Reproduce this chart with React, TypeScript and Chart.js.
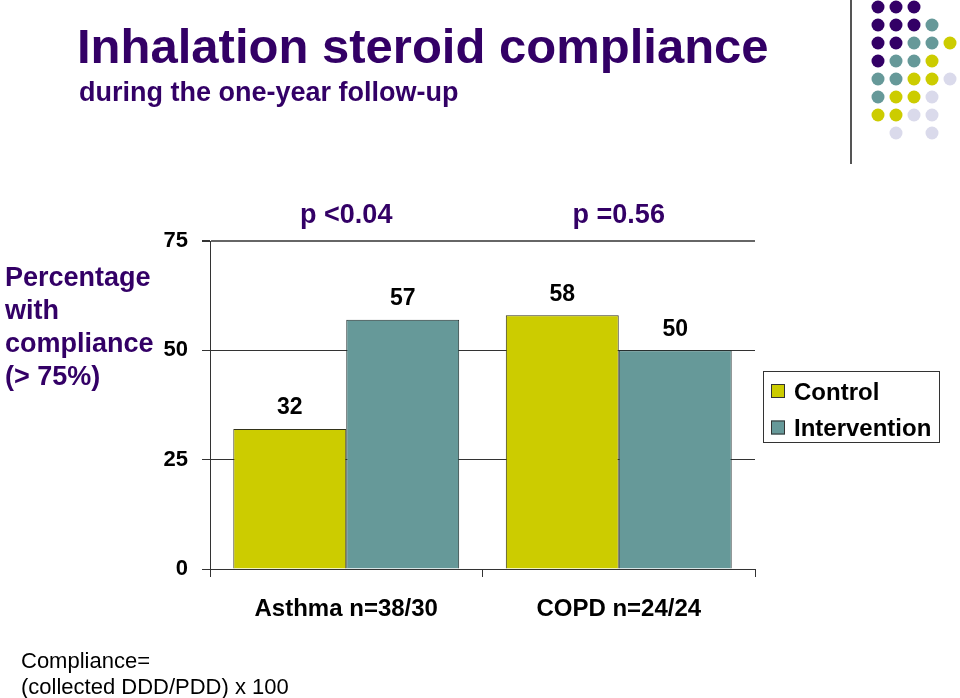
import React, { useEffect, useRef } from "react";
import { Chart, registerables } from "chart.js";

Chart.register(...registerables);

const categories = ["Asthma n=38/30", "COPD n=24/24"];
const seriesNames = ["Control", "Intervention"];
const controlValues = [32, 58];
const interventionValues = [57, 50];
const pValues = ["p <0.04", "p =0.56"];
const yTicks = [0, 25, 50, 75];

const titleText = "Inhalation steroid compliance";
const subtitleText = "during the one-year follow-up";
const yTitleLines = ["Percentage", "with", "compliance", "(> 75%)"];
const footnoteLines = ["Compliance=", "(collected DDD/PDD) x 100"];

const FONT = "'Liberation Sans', Arial, Helvetica, sans-serif";
const PURPLE = "#330066";
const YELLOW = "#CCCC00";
const TEAL = "#669999";
const LAVENDER = "#DADAEB";

// decorative dot pattern (top-right corner)
const dotRows = ["PPP..", "PPPT.", "PPTTY", "PTTY.", "TTYYL", "TYYL.", "YYLL.", ".L.L."];
const dotColors: Record<string, string> = { P: PURPLE, T: TEAL, Y: YELLOW, L: LAVENDER };

const overlayPlugin = {
  id: "overlay",
  afterDraw(chart: any) {
    const ctx = chart.ctx as CanvasRenderingContext2D;
    ctx.save();
    // decoration
    ctx.strokeStyle = "#555";
    ctx.lineWidth = 2;
    ctx.beginPath();
    ctx.moveTo(851, 0);
    ctx.lineTo(851, 164);
    ctx.stroke();
    const colX = [878, 896, 914, 932, 950];
    const rowY = [7, 25, 43, 61, 79, 97, 115, 133];
    dotRows.forEach((row, r) => {
      row.split("").forEach((c, k) => {
        if (c === ".") return;
        ctx.fillStyle = dotColors[c];
        ctx.beginPath();
        ctx.arc(colX[k], rowY[r], 6.5, 0, Math.PI * 2);
        ctx.fill();
      });
    });

    ctx.textBaseline = "middle";
    // titles
    ctx.fillStyle = PURPLE;
    ctx.textAlign = "left";
    ctx.font = `bold 49px ${FONT}`;
    ctx.fillText(titleText, 77, 49);
    ctx.font = `bold 27px ${FONT}`;
    ctx.fillText(subtitleText, 79, 94);
    yTitleLines.forEach((l, i) => ctx.fillText(l, 5, 279 + i * 32.7));

    // p-values over categories
    const xScale = chart.scales.x;
    ctx.textAlign = "center";
    pValues.forEach((p, i) => {
      ctx.fillText(p, xScale.getPixelForValue(i), chart.chartArea.top - 25);
    });

    // data labels
    ctx.fillStyle = "#000";
    ctx.font = `bold 23px ${FONT}`;
    chart.data.datasets.forEach((ds: any, di: number) => {
      const meta = chart.getDatasetMeta(di);
      meta.data.forEach((bar: any, j: number) => {
        ctx.fillText(String(ds.data[j]), bar.x, bar.y - 21);
      });
    });

    // legend
    ctx.strokeStyle = "#333";
    ctx.lineWidth = 1;
    ctx.strokeRect(763.5, 371.5, 176, 71);
    ctx.textAlign = "left";
    ctx.font = `bold 24px ${FONT}`;
    chart.data.datasets.forEach((ds: any, di: number) => {
      const cy = 391 + di * 36.5;
      ctx.fillStyle = ds.backgroundColor;
      ctx.fillRect(771, cy - 7, 14, 14);
      ctx.strokeStyle = "#333";
      ctx.strokeRect(771.5, cy - 6.5, 13, 13);
      ctx.fillStyle = "#000";
      ctx.fillText(ds.label, 794, cy + 2);
    });

    // footnote
    ctx.font = `22px ${FONT}`;
    ctx.fillStyle = "#000";
    footnoteLines.forEach((l, i) => ctx.fillText(l, 21, 662 + i * 26));
    ctx.restore();
  },
};

export default function App() {
  const ref = useRef<HTMLCanvasElement | null>(null);
  useEffect(() => {
    if (!ref.current) return;
    const chart = new Chart(ref.current, {
      type: "bar",
      data: {
        labels: categories,
        datasets: [
          {
            label: seriesNames[0],
            data: controlValues,
            backgroundColor: YELLOW,
            borderColor: "#33331a",
            borderWidth: 1,
            categoryPercentage: 0.829,
            barPercentage: 1,
          },
          {
            label: seriesNames[1],
            data: interventionValues,
            backgroundColor: TEAL,
            borderColor: "#1f2f2f",
            borderWidth: 1,
            categoryPercentage: 0.829,
            barPercentage: 1,
          },
        ],
      },
      options: {
        responsive: false,
        animation: false,
        layout: { padding: { left: 0, right: 205, top: 241, bottom: 59 } },
        plugins: {
          legend: { display: false },
          tooltip: { enabled: false },
          title: { display: false },
        },
        scales: {
          x: {
            grid: {
              offset: true,
              drawOnChartArea: false,
              tickLength: 8,
              color: "#333",
              lineWidth: 1,
            },
            border: { display: true, color: "#333", width: 1 },
            ticks: {
              font: { family: FONT, size: 24, weight: "bold" },
              color: "#000",
              padding: 18,
            },
            afterFit: (s: any) => {
              s.height = 70;
            },
          },
          y: {
            min: 0,
            max: 75,
            afterBuildTicks: (s: any) => {
              s.ticks = yTicks.map((v) => ({ value: v }));
            },
            grid: {
              color: (c: any) => (c.tick && c.tick.value === 75 ? "#666" : "#333"),
              lineWidth: (c: any) => (c.tick && c.tick.value === 75 ? 2 : 1),
              tickLength: 8,
              tickColor: "#333",
            },
            border: { color: "#333", width: 1 },
            ticks: {
              font: { family: FONT, size: 22, weight: "bold" },
              color: "#000",
              padding: 14,
            },
            afterFit: (s: any) => {
              s.width = 210;
            },
          },
        },
      } as any,
      plugins: [overlayPlugin],
    });
    return () => chart.destroy();
  }, []);
  return (
    <div style={{ position: "fixed", left: 0, top: 0, width: 960, height: 698, background: "#fff" }}>
      <canvas ref={ref} width={960} height={698} style={{ width: 960, height: 698, display: "block" }} />
    </div>
  );
}
